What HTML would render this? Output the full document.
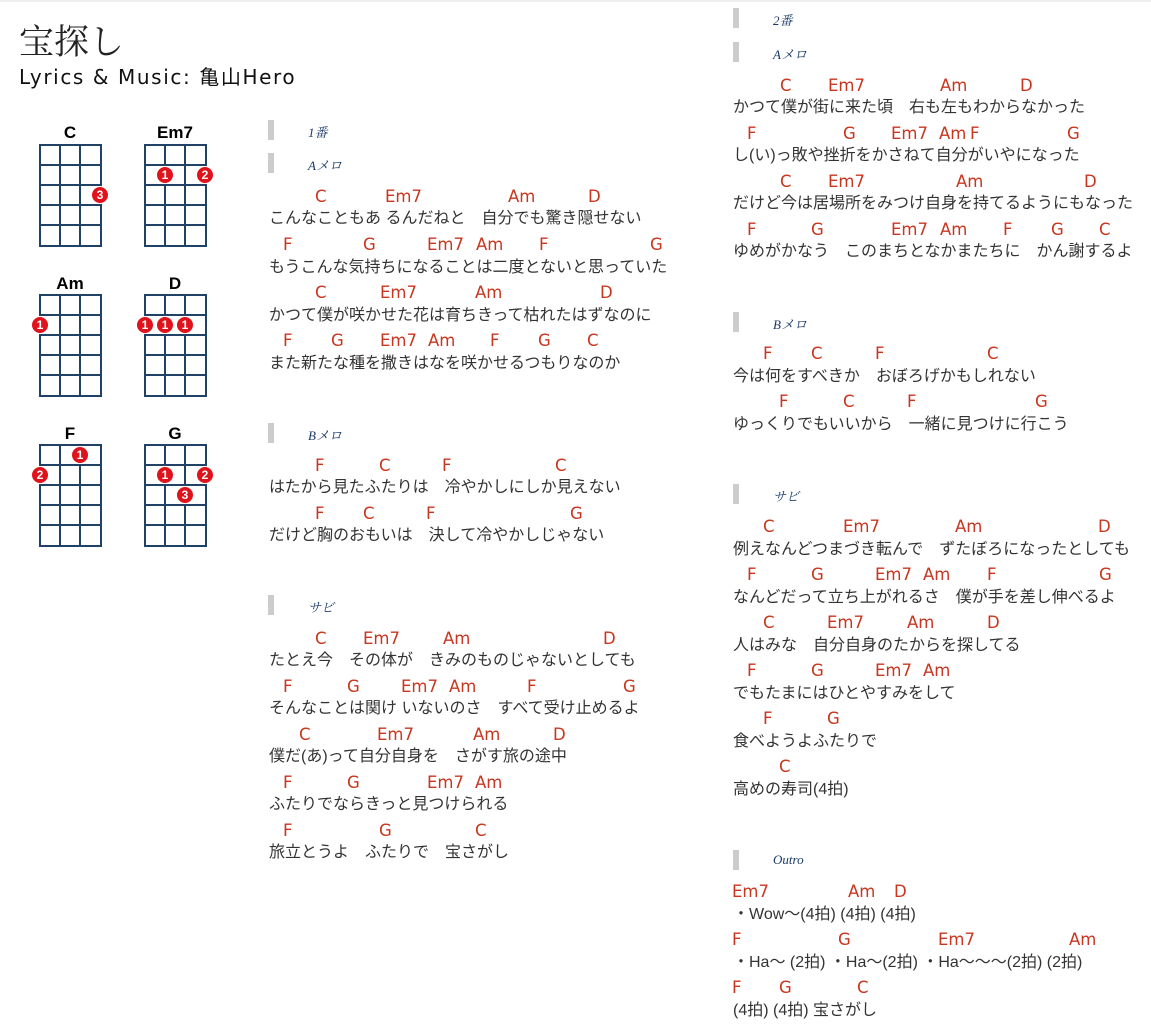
<!DOCTYPE html>
<html><head><meta charset="utf-8"><style>
body{margin:0;width:1151px;height:1028px;position:relative;background:#fff;overflow:hidden;border-top:2px solid #eee;box-sizing:border-box}
.a{position:absolute;white-space:pre;line-height:18px}
.c{position:absolute;color:#c9361f;font:16.5px "DejaVu Sans","Liberation Sans",sans-serif;line-height:18px;top:0}
.r{position:absolute;height:18px;left:0;width:0}
.l{position:absolute;color:#333;font:16px "Liberation Sans","Noto Sans CJK JP",sans-serif;line-height:20px;white-space:pre}
.h{position:absolute;color:#1a3a6a;font:italic 13px "Liberation Serif","Noto Serif CJK SC",serif}
.b{position:absolute;width:6px;height:20px;background:#ccc}
</style></head><body>
<div class="a" style="left:19px;top:16px;font:35px 'Noto Serif CJK SC','Noto Sans CJK JP',serif;line-height:44px;color:#222">宝探し</div>
<div class="a" style="left:19px;top:64px;font:20px 'DejaVu Sans','Noto Sans CJK JP',sans-serif;letter-spacing:1.6px;line-height:22px;color:#111">Lyrics &amp; Music: 亀山Hero</div>

<svg width="260" height="560" style="position:absolute;left:0;top:0" font-family="Liberation Sans,sans-serif">
<defs><g id="grid" fill="none" stroke="#1f4266" stroke-width="2">
<rect x="0" y="0" width="61" height="101"/><path d="M20 0V101M40 0V101M0 20H61M0 40H61M0 60H61M0 80H61"/></g></defs>
<g font-weight="bold" font-size="17" text-anchor="middle" fill="#000">
<text x="70" y="136">C</text><text x="175" y="136">Em7</text>
<text x="70" y="287">Am</text><text x="175" y="287">D</text>
<text x="70" y="437">F</text><text x="175" y="437">G</text></g>
<use href="#grid" x="40" y="143"/><use href="#grid" x="145" y="143"/>
<use href="#grid" x="40" y="293"/><use href="#grid" x="145" y="293"/>
<use href="#grid" x="40" y="443"/><use href="#grid" x="145" y="443"/>
<g fill="#e0121b" stroke="#fff" stroke-width="1">
<circle cx="100" cy="193" r="8.5"/><circle cx="165" cy="173" r="8.5"/><circle cx="205" cy="173" r="8.5"/>
<circle cx="40" cy="323" r="8.5"/><circle cx="145" cy="323" r="8.5"/><circle cx="165" cy="323" r="8.5"/><circle cx="185" cy="323" r="8.5"/>
<circle cx="80" cy="453" r="8.5"/><circle cx="40" cy="473" r="8.5"/>
<circle cx="165" cy="473" r="8.5"/><circle cx="205" cy="473" r="8.5"/><circle cx="185" cy="493" r="8.5"/></g>
<g fill="#fff" font-size="12" font-weight="bold" text-anchor="middle">
<text x="100" y="197">3</text><text x="165" y="177">1</text><text x="205" y="177">2</text>
<text x="40" y="327">1</text><text x="145" y="327">1</text><text x="165" y="327">1</text><text x="185" y="327">1</text>
<text x="80" y="457">1</text><text x="40" y="477">2</text>
<text x="165" y="477">1</text><text x="205" y="477">2</text><text x="185" y="497">3</text></g>
</svg>

<!-- left column -->
<div class="b" style="left:268px;top:118px"></div><div class="h" style="left:308px;top:120px">1番</div>
<div class="b" style="left:268px;top:151px"></div><div class="h" style="left:308px;top:153px">Aメロ</div>

<div class="r" style="top:186px"><span class="c" style="left:315px">C</span><span class="c" style="left:385px">Em7</span><span class="c" style="left:508px">Am</span><span class="c" style="left:588px">D</span></div>
<div class="l" style="left:269px;top:207px">こんなこともあ るんだねと　自分でも驚き隠せない</div>
<div class="r" style="top:234px"><span class="c" style="left:283px">F</span><span class="c" style="left:363px">G</span><span class="c" style="left:427px">Em7</span><span class="c" style="left:476px">Am</span><span class="c" style="left:539px">F</span><span class="c" style="left:650px">G</span></div>
<div class="l" style="left:269px;top:256px">もうこんな気持ちになることは二度とないと思っていた</div>
<div class="r" style="top:282px"><span class="c" style="left:315px">C</span><span class="c" style="left:380px">Em7</span><span class="c" style="left:475px">Am</span><span class="c" style="left:600px">D</span></div>
<div class="l" style="left:269px;top:304px">かつて僕が咲かせた花は育ちきって枯れたはずなのに</div>
<div class="r" style="top:330px"><span class="c" style="left:283px">F</span><span class="c" style="left:331px">G</span><span class="c" style="left:380px">Em7</span><span class="c" style="left:428px">Am</span><span class="c" style="left:490px">F</span><span class="c" style="left:538px">G</span><span class="c" style="left:587px">C</span></div>
<div class="l" style="left:269px;top:352px">また新たな種を撒きはなを咲かせるつもりなのか</div>

<div class="b" style="left:268px;top:421px"></div><div class="h" style="left:308px;top:423px">Bメロ</div>
<div class="r" style="top:455px"><span class="c" style="left:315px">F</span><span class="c" style="left:379px">C</span><span class="c" style="left:442px">F</span><span class="c" style="left:555px">C</span></div>
<div class="l" style="left:269px;top:476px">はたから見たふたりは　冷やかしにしか見えない</div>
<div class="r" style="top:503px"><span class="c" style="left:315px">F</span><span class="c" style="left:363px">C</span><span class="c" style="left:426px">F</span><span class="c" style="left:570px">G</span></div>
<div class="l" style="left:269px;top:524px">だけど胸のおもいは　決して冷やかしじゃない</div>

<div class="b" style="left:268px;top:593px"></div><div class="h" style="left:308px;top:595px">サビ</div>
<div class="r" style="top:628px"><span class="c" style="left:315px">C</span><span class="c" style="left:363px">Em7</span><span class="c" style="left:443px">Am</span><span class="c" style="left:603px">D</span></div>
<div class="l" style="left:269px;top:649px">たとえ今　その体が　きみのものじゃないとしても</div>
<div class="r" style="top:676px"><span class="c" style="left:283px">F</span><span class="c" style="left:347px">G</span><span class="c" style="left:401px">Em7</span><span class="c" style="left:449px">Am</span><span class="c" style="left:527px">F</span><span class="c" style="left:623px">G</span></div>
<div class="l" style="left:269px;top:697px">そんなことは関け いないのさ　すべて受け止めるよ</div>
<div class="r" style="top:724px"><span class="c" style="left:299px">C</span><span class="c" style="left:377px">Em7</span><span class="c" style="left:473px">Am</span><span class="c" style="left:553px">D</span></div>
<div class="l" style="left:269px;top:745px">僕だ(あ)って自分自身を　さがす旅の途中</div>
<div class="r" style="top:772px"><span class="c" style="left:283px">F</span><span class="c" style="left:347px">G</span><span class="c" style="left:427px">Em7</span><span class="c" style="left:475px">Am</span></div>
<div class="l" style="left:269px;top:793px">ふたりでならきっと見つけられる</div>
<div class="r" style="top:820px"><span class="c" style="left:283px">F</span><span class="c" style="left:379px">G</span><span class="c" style="left:475px">C</span></div>
<div class="l" style="left:269px;top:841px">旅立とうよ　ふたりで　宝さがし</div>

<!-- right column -->
<div class="b" style="left:733px;top:6px"></div><div class="h" style="left:773px;top:8px">2番</div>
<div class="b" style="left:733px;top:40px"></div><div class="h" style="left:773px;top:42px">Aメロ</div>
<div class="r" style="top:75px"><span class="c" style="left:780px">C</span><span class="c" style="left:828px">Em7</span><span class="c" style="left:940px">Am</span><span class="c" style="left:1020px">D</span></div>
<div class="l" style="left:733px;top:96px">かつて僕が街に来た頃　右も左もわからなかった</div>
<div class="r" style="top:123px"><span class="c" style="left:747px">F</span><span class="c" style="left:843px">G</span><span class="c" style="left:891px">Em7</span><span class="c" style="left:939px">Am</span><span class="c" style="left:970px">F</span><span class="c" style="left:1067px">G</span></div>
<div class="l" style="left:733px;top:144px">し(い)っ敗や挫折をかさねて自分がいやになった</div>
<div class="r" style="top:171px"><span class="c" style="left:780px">C</span><span class="c" style="left:828px">Em7</span><span class="c" style="left:956px">Am</span><span class="c" style="left:1084px">D</span></div>
<div class="l" style="left:733px;top:192px">だけど今は居場所をみつけ自身を持てるようにもなった</div>
<div class="r" style="top:219px"><span class="c" style="left:747px">F</span><span class="c" style="left:811px">G</span><span class="c" style="left:891px">Em7</span><span class="c" style="left:940px">Am</span><span class="c" style="left:1003px">F</span><span class="c" style="left:1051px">G</span><span class="c" style="left:1099px">C</span></div>
<div class="l" style="left:733px;top:240px">ゆめがかなう　このまちとなかまたちに　かん謝するよ</div>

<div class="b" style="left:733px;top:310px"></div><div class="h" style="left:773px;top:312px">Bメロ</div>
<div class="r" style="top:343px"><span class="c" style="left:763px">F</span><span class="c" style="left:811px">C</span><span class="c" style="left:875px">F</span><span class="c" style="left:987px">C</span></div>
<div class="l" style="left:733px;top:365px">今は何をすべきか　おぼろげかもしれない</div>
<div class="r" style="top:391px"><span class="c" style="left:779px">F</span><span class="c" style="left:843px">C</span><span class="c" style="left:907px">F</span><span class="c" style="left:1035px">G</span></div>
<div class="l" style="left:733px;top:413px">ゆっくりでもいいから　一緒に見つけに行こう</div>

<div class="b" style="left:733px;top:482px"></div><div class="h" style="left:773px;top:484px">サビ</div>
<div class="r" style="top:516px"><span class="c" style="left:763px">C</span><span class="c" style="left:843px">Em7</span><span class="c" style="left:955px">Am</span><span class="c" style="left:1098px">D</span></div>
<div class="l" style="left:733px;top:538px">例えなんどつまづき転んで　ずたぼろになったとしても</div>
<div class="r" style="top:564px"><span class="c" style="left:747px">F</span><span class="c" style="left:811px">G</span><span class="c" style="left:875px">Em7</span><span class="c" style="left:923px">Am</span><span class="c" style="left:987px">F</span><span class="c" style="left:1099px">G</span></div>
<div class="l" style="left:733px;top:586px">なんどだって立ち上がれるさ　僕が手を差し伸べるよ</div>
<div class="r" style="top:612px"><span class="c" style="left:763px">C</span><span class="c" style="left:827px">Em7</span><span class="c" style="left:907px">Am</span><span class="c" style="left:987px">D</span></div>
<div class="l" style="left:733px;top:634px">人はみな　自分自身のたからを探してる</div>
<div class="r" style="top:660px"><span class="c" style="left:747px">F</span><span class="c" style="left:811px">G</span><span class="c" style="left:875px">Em7</span><span class="c" style="left:923px">Am</span></div>
<div class="l" style="left:733px;top:682px">でもたまにはひとやすみをして</div>
<div class="r" style="top:708px"><span class="c" style="left:763px">F</span><span class="c" style="left:827px">G</span></div>
<div class="l" style="left:733px;top:730px">食べようよふたりで</div>
<div class="r" style="top:756px"><span class="c" style="left:779px">C</span></div>
<div class="l" style="left:733px;top:778px">高めの寿司(4拍)</div>

<div class="b" style="left:733px;top:848px"></div><div class="h" style="left:773px;top:850px">Outro</div>
<div class="r" style="top:881px"><span class="c" style="left:732px">Em7</span><span class="c" style="left:848px">Am</span><span class="c" style="left:894px">D</span></div>
<div class="l" style="left:733px;top:903px">・Wow～(4拍) (4拍) (4拍)</div>
<div class="r" style="top:929px"><span class="c" style="left:732px">F</span><span class="c" style="left:838px">G</span><span class="c" style="left:938px">Em7</span><span class="c" style="left:1069px">Am</span></div>
<div class="l" style="left:733px;top:951px">・Ha～ (2拍) ・Ha～(2拍) ・Ha～～～(2拍) (2拍)</div>
<div class="r" style="top:977px"><span class="c" style="left:732px">F</span><span class="c" style="left:779px">G</span><span class="c" style="left:857px">C</span></div>
<div class="l" style="left:733px;top:999px">(4拍) (4拍) 宝さがし</div>
</body></html>
